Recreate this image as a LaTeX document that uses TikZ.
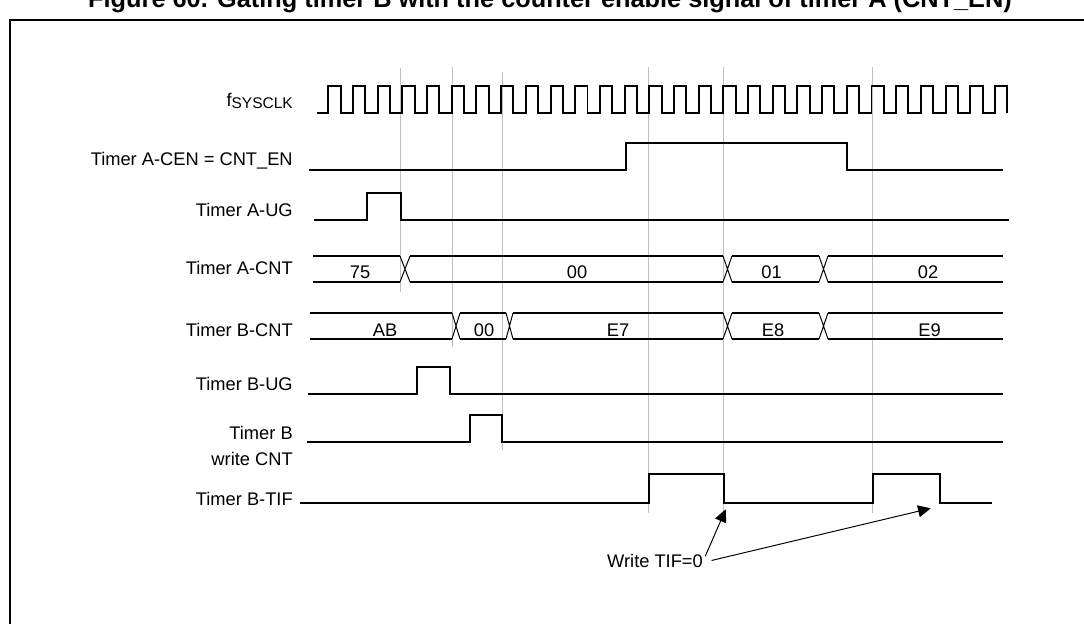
\documentclass[tikz,border=0pt]{standalone}
\usepackage{fontspec}
\setmainfont{Liberation Sans}
\usetikzlibrary{arrows.meta}

\begin{document}
\begin{tikzpicture}[x=0.025cm, y=-0.025cm, font=\fontsize{13}{18.4}\selectfont, every node/.style={align=right}]
\tikzset{
  sig/.style={line width=1.4pt},
  xing/.style={line width=0.7pt},
  guide/.style={line width=0.7pt, black!25},
  lbl/.style={anchor=base east, inner sep=0pt},
  val/.style={anchor=base, inner sep=0pt},
  arr/.style={-{Triangle[length=9pt, width=8.5pt]}, line width=0.7pt}
}
  \useasboundingbox (0,0) rectangle (1084,624);
  \node[font=\fontsize{18}{20}\selectfont\bfseries, anchor=base] (title) at (550,8)
    {Figure 60. Gating timer B with the counter enable signal of timer A (CNT\_EN)};
  \draw[line width=1.8pt] (10,640) -- (10,20) -- (1100,20);

  \draw[guide] (400,68) -- (400,292);
  \draw[guide] (452,67) -- (452,347);
  \draw[guide] (502,72) -- (502,450);
  \foreach \gx in {648.3,723.3,872.3}
    \draw[guide] (\gx,67) -- (\gx,513);

  \node[lbl] (lblclk) at (293,106.7) {f\raisebox{-1.2pt}{\fontsize{11}{13}\selectfont SYSCLK}};
  \node[lbl] (lblcen) at (293,165.3) {Timer A-CEN = CNT\_EN};
  \node[lbl] (lblaug) at (293,216.7) {Timer A-UG};
  \node[lbl] (lblacnt) at (293,274) {Timer A-CNT};
  \node[lbl] (lblbcnt) at (293,336) {Timer B-CNT};
  \node[lbl] (lblbug) at (293,390.7) {Timer B-UG};
  \node[lbl] (lblbwr) at (293,465) {Timer B\\write CNT};
  \node[lbl] (lbltif) at (293,505) {Timer B-TIF};

  \draw[sig] (317,113) \foreach \k in {0,...,27}{
    -- ({328.3+24.69*\k},113) -- ++(0,-27) -- ++(12.3,0) -- ++(0,27) };
  \draw[sig] (309,170) -- (626,170) -- (626,143) -- (846.7,143) -- (846.7,170) -- (1003,170);
  \draw[sig] (314,220) -- (367,220) -- (367,193) -- (400.7,193) -- (400.7,220) -- (1009,220);

  \foreach \yy in {256,282}
    \draw[sig] (313,\yy) -- (400,\yy) (410,\yy) -- (723,\yy) (732,\yy) -- (819,\yy) (828,\yy) -- (1003,\yy);
  \foreach \xa/\xb in {400/410,723/732,819/828}
    \draw[xing] (\xa,256) -- (\xb,282) (\xa,282) -- (\xb,256);
  \node[val] (va75) at (360,278) {75};
  \node[val] (va00) at (577,278) {00};
  \node[val] (va01) at (771.5,278) {01};
  \node[val] (va02) at (928,278) {02};

  \foreach \yy in {313,339}
    \draw[sig] (310,\yy) -- (452,\yy) (460,\yy) -- (506,\yy) (513,\yy) -- (723,\yy) (732,\yy) -- (819,\yy) (828,\yy) -- (1003,\yy);
  \foreach \xa/\xb in {452/460,506/513,723/732,819/828}
    \draw[xing] (\xa,313) -- (\xb,339) (\xa,339) -- (\xb,313);
  \node[val] (vbab) at (385,336.5) {AB};
  \node[val] (vb00) at (484,336.5) {00};
  \node[val] (vbe7) at (618,336.5) {E7};
  \node[val] (vbe8) at (773,336.5) {E8};
  \node[val] (vbe9) at (929.5,336.5) {E9};

  \draw[sig] (308,394.3) -- (416.7,394.3) -- (416.7,367.3) -- (450,367.3) -- (450,394.3) -- (1003,394.3);
  \draw[sig] (306.7,442) -- (470,442) -- (470,415) -- (502.3,415) -- (502.3,442) -- (1003,442);
  \draw[sig] (300,502.7) -- (649.3,502.7) -- (649.3,474) -- (724.3,474) -- (724.3,502.7)
    -- (872.7,502.7) -- (872.7,474) -- (940,474) -- (940,502.7) -- (992,502.7);

  \node[val] (wtif) at (655,567) {Write TIF=0};
  \coordinate (tipa) at (725.7,509.3);
  \coordinate (tipb) at (930.7,508.3);
  \draw[arr] ([shift={(1.5pt,-2pt)}]wtif.north east) -- (tipa);
  \draw[arr] ([xshift=6pt]wtif.east) -- (tipb);
\end{tikzpicture}
\end{document}
